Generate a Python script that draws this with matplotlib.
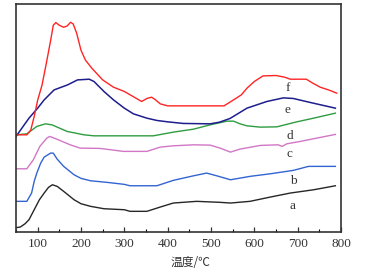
import matplotlib
matplotlib.use("Agg")
import matplotlib.pyplot as plt
from matplotlib.ticker import MultipleLocator

# Curve a (black)
a_T = [50, 60, 71, 80, 92, 104, 115, 125, 134, 145, 160, 184, 200, 222, 253, 300, 313, 352, 383, 413, 467, 521, 545, 590, 637, 683, 737, 787]
a_v = [4.3, 5, 8.3, 12.3, 22.3, 32.3, 39, 44.7, 47.3, 45.7, 40.7, 32.3, 28.3, 25.7, 23.3, 22.3, 20.7, 20.7, 25, 29, 30.7, 29.7, 29, 30.7, 35, 39, 42.3, 46.3]
# Curve b (blue)
b_T = [50, 75, 86, 92, 98, 107, 115, 130, 136, 145, 160, 184, 200, 222, 260, 300, 313, 375, 413, 460, 490, 513, 545, 590, 637, 690, 725, 787]
b_v = [30.7, 30.7, 39, 50.7, 59, 69, 75, 79, 79, 73, 65.7, 57.3, 53.7, 51.3, 49.7, 47.7, 46.3, 46.3, 51.7, 56.3, 59, 56.3, 52.3, 55.7, 58.3, 61.7, 65.7, 65.7]
# Curve c (pink)
c_T = [50, 75, 90, 105, 121, 128, 144, 175, 198, 244, 298, 352, 383, 413, 460, 498, 521, 545, 567, 614, 655, 664, 675, 706, 752, 787]
c_v = [63.3, 63.3, 72.3, 85.7, 94, 95.7, 93, 87.3, 84, 83.7, 80.7, 80.7, 85, 86.3, 87.3, 87, 84, 80, 83, 86.7, 87.3, 85.7, 88.3, 90.7, 94.7, 97.7]
# Curve d (green)
d_T = [50, 75, 98, 118, 133, 168, 207, 230, 367, 413, 460, 498, 537, 552, 567, 583, 614, 652, 698, 737, 787]
d_v = [97.3, 98.3, 105.7, 108.3, 107.3, 100.7, 97.3, 96.3, 96.3, 100, 103, 107.3, 111, 111, 108.3, 106.3, 105, 105.3, 110.3, 114, 119]
# Curve e (navy)
e_T = [50, 80, 100, 115, 138, 169, 192, 219, 230, 253, 275, 300, 321, 352, 375, 400, 436, 498, 520, 544, 583, 629, 667, 690, 729, 787]
e_v = [95.7, 114, 124, 132.3, 142.3, 147.3, 152.3, 153, 150.7, 140.7, 132.3, 124, 118.3, 114, 111.7, 110.3, 108.7, 108.3, 110, 113.7, 124, 130.7, 134.3, 133.7, 129.7, 124]
# Curve f (red)
f_T = [50, 75, 84, 92, 100, 110, 120, 130, 136, 142, 150, 160, 168, 176, 182, 190, 200, 210, 225, 250, 275, 300, 320, 340, 352, 363, 372, 383, 400, 530, 552, 570, 583, 600, 620, 650, 670, 683, 720, 735, 752, 775, 790]
f_v = [97.3, 97.3, 102, 115.7, 132, 147, 169, 192, 207, 209.7, 207, 205, 206.3, 210, 208.3, 199, 182, 172.3, 164, 152.3, 145, 140.7, 135.7, 130.7, 133.7, 135, 132.3, 128.3, 126.3, 126.3, 132.3, 137.3, 144, 150.7, 156.3, 156.7, 155, 153, 153, 149, 145, 141.7, 139]

labels = ["a", "b", "c", "d", "e", "f"]
label_T = [687, 690, 681, 681, 677, 677]
label_v = [25.7, 50.7, 78.3, 96.3, 122.3, 144]

xticks = [100, 200, 300, 400, 500, 600, 700, 800]
xlabel = "温度/℃"

fig = plt.figure(figsize=(3.72, 2.74), dpi=100)
ax = fig.add_axes([16/372, 1-232/274, (341-16)/372, (232-4)/274])

ax.plot(a_T, a_v, color="#262626", lw=1.0)
ax.plot(b_T, b_v, color="#3264d2", lw=1.0)
ax.plot(c_T, c_v, color="#d276c6", lw=1.0)
ax.plot(d_T, d_v, color="#2e9c40", lw=1.0)
ax.plot(e_T, e_v, color="#1e1e8e", lw=1.1)
ax.plot(f_T, f_v, color="#ff2424", lw=1.0)

for lab, tx, ty in zip(labels, label_T, label_v):
    ax.text(tx, ty, lab, ha="center", va="center", fontsize=9.5,
            family="Liberation Serif", color="#333333")

ax.set_xlim(50, 800)
ax.set_ylim(0, 228.3)
ax.set_xticks(xticks)
ax.set_xticklabels([str(t) for t in xticks], family="Liberation Serif", fontsize=9.5, color="#333333")
ax.xaxis.set_minor_locator(MultipleLocator(50))
ax.tick_params(axis="x", which="major", direction="in", length=3.5, width=0.9, pad=4, colors="#333333")
ax.tick_params(axis="x", which="minor", direction="in", length=2, width=0.8)
ax.tick_params(axis="x", labelcolor="#333333")
ax.set_yticks([])
for s in ax.spines.values():
    s.set_linewidth(1.2)
    s.set_color("#333333")

fig.text(190/372, 1-262/274, xlabel, ha="center", va="center", fontsize=8.5,
         family=["Noto Sans CJK SC", "DejaVu Sans"], color="#333333")

fig.savefig("out.png", dpi=100)
